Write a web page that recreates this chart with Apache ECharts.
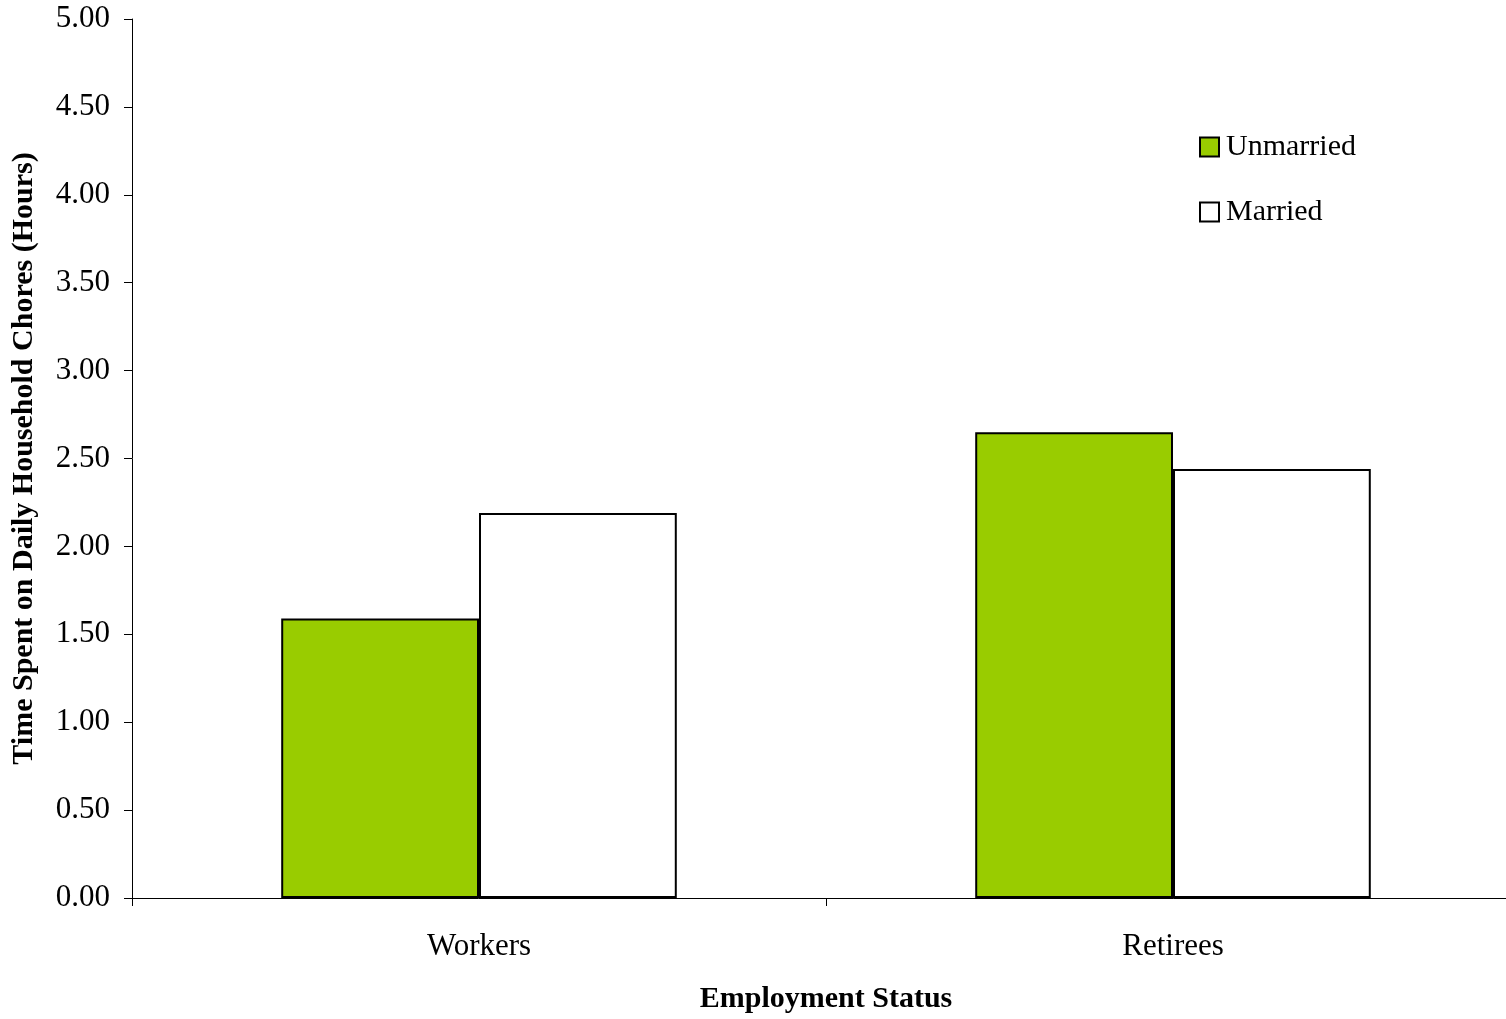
<!DOCTYPE html>
<html>
<head>
<meta charset="utf-8">
<script src="https://cdn.jsdelivr.net/npm/echarts@6/dist/echarts.min.js"></script>
<style>
	html, body { margin: 0; padding: 0; background: #fff; overflow: hidden; }
	#chart { width: 1520px; height: 1019px; }
</style>
</head>
<body>
<div id="chart"></div>
<script>
// data
const categories = ['Workers', 'Retirees']
const unmarried = [1.59, 2.65]
const married = [2.19, 2.44]
const yTicks = { min: 0, max: 5, interval: 0.5 }

const font = 'Liberation Serif'
const myChart = echarts.init(document.getElementById('chart'))

let option = {
	animation: false,
	textStyle: { fontFamily: font, color: '#000' },
	grid: {
		left: 132,
		right: 0,
		top: 19,
		bottom: 119,
		containLabel: false
	},
	legend: {
		orient: 'vertical',
		left: 1199,
		top: 132,
		padding: 0,
		itemWidth: 19,
		itemHeight: 19,
		itemGap: 35,
		icon: 'rect',
		textStyle: { fontFamily: font, fontSize: 30, color: '#000', padding: [0, 0, 0, 2] },
		data: ['Unmarried', 'Married']
	},
	xAxis: {
		type: 'category',
		data: categories,
		name: 'Employment Status',
		nameLocation: 'middle',
		nameGap: 86,
		nameTextStyle: { fontFamily: font, fontSize: 30, fontWeight: 'bold', color: '#000' },
		axisLine: { lineStyle: { color: '#000', width: 1 } },
		axisTick: { show: true, length: 8, lineStyle: { color: '#000' } },
		axisLabel: { fontFamily: font, fontSize: 31, color: '#000', margin: 33 }
	},
	yAxis: {
		type: 'value',
		min: yTicks.min,
		max: yTicks.max,
		interval: yTicks.interval,
		name: 'Time Spent on Daily Household Chores (Hours)',
		nameLocation: 'middle',
		nameGap: 93,
		nameTextStyle: { fontFamily: font, fontSize: 30, fontWeight: 'bold', color: '#000' },
		splitLine: { show: false },
		axisLine: { show: true, lineStyle: { color: '#000', width: 1 } },
		axisTick: { show: true, length: 8, lineStyle: { color: '#000' } },
		axisLabel: {
			fontFamily: font,
			fontSize: 31,
			color: '#000',
			margin: 22,
			formatter: v => v.toFixed(2)
		}
	},
	series: [{
		name: 'Unmarried',
		type: 'bar',
		data: unmarried,
		barGap: '0%',
		barCategoryGap: '43%',
		itemStyle: { color: '#99CC00', borderColor: '#000', borderWidth: 2 }
	}, {
		name: 'Married',
		type: 'bar',
		data: married,
		barGap: '0%',
		barCategoryGap: '43%',
		itemStyle: { color: '#FFFFFF', borderColor: '#000', borderWidth: 2 }
	}]
}
myChart.setOption(option)
</script>
</body>
</html>
